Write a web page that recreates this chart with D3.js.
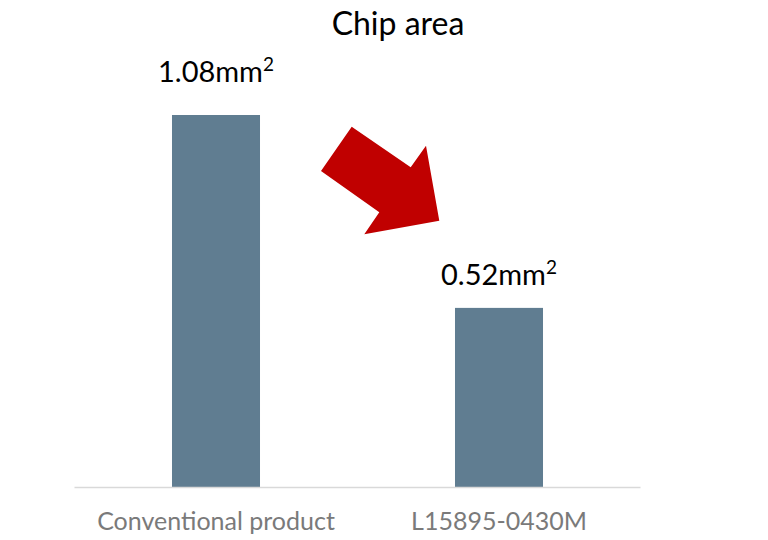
<!DOCTYPE html>
<html>
<head>
<meta charset="utf-8">
<script src="https://cdn.jsdelivr.net/npm/d3@7"></script>
<style>
  body { margin: 0; background: #fff; }
  svg { display: block; font-family: Lato, "Open Sans", sans-serif; }
</style>
</head>
<body>
<svg id="svg"></svg>
<script>
const categories = ["Conventional product", "L15895-0430M"];
const values = [1.08, 0.52];
const valueLabels = ["1.08mm", "0.52mm"];
const labelGaps = [33, 23];
const title = "Chip area";

let svg = d3.select("#svg");
let width = 768;
let height = 540;
svg.attr("width", width).attr("height", height);

let baseY = 487;

let x = d3.scaleBand()
    .domain(categories)
    .range([74.5, 640.5])
    .paddingInner(0.689)
    .paddingOuter(0.3445);

let y = d3.scaleLinear()
    .domain([0, 1.08])
    .range([baseY, 115]);

// title
svg.append("text")
    .attr("x", 398)
    .attr("y", 35)
    .attr("text-anchor", "middle")
    .attr("font-size", "32px")
    .attr("fill", "#000")
    .text(title);

// bars
svg.selectAll("rect.bar")
    .data(values)
    .enter()
    .append("rect")
    .attr("class", "bar")
    .attr("x", (d, i) => x(categories[i]))
    .attr("y", d => y(d))
    .attr("width", x.bandwidth())
    .attr("height", d => baseY - y(d))
    .attr("fill", "#607d91");

// baseline
svg.append("line")
    .attr("x1", 74.5)
    .attr("x2", 640.5)
    .attr("y1", baseY + 0.5)
    .attr("y2", baseY + 0.5)
    .attr("stroke", "#d9d9d9")
    .attr("stroke-width", 1.5);

// value labels with superscript
let labels = svg.selectAll("text.value")
    .data(values)
    .enter()
    .append("text")
    .attr("class", "value")
    .attr("x", (d, i) => x(categories[i]) + x.bandwidth() / 2)
    .attr("y", (d, i) => y(d) - labelGaps[i])
    .attr("text-anchor", "middle")
    .attr("font-size", "29px")
    .attr("fill", "#000");

labels.append("tspan").text((d, i) => valueLabels[i]);
labels.append("tspan")
    .attr("dy", -11)
    .attr("font-size", "19px")
    .text("2");

// category axis labels
svg.selectAll("text.cat")
    .data(categories)
    .enter()
    .append("text")
    .attr("class", "cat")
    .attr("x", d => x(d) + x.bandwidth() / 2)
    .attr("y", 530)
    .attr("text-anchor", "middle")
    .attr("font-size", "25px")
    .attr("fill", "#7a7a7a")
    .text(d => d);

// red arrow annotation between the bars
const arrowShape = [
    [351.7, 126.7], [410.7, 167.3], [426, 145.7], [439.3, 220.7],
    [364.3, 234.3], [379.3, 212.3], [321, 171]
];
svg.append("path")
    .attr("d", d3.line()(arrowShape) + "Z")
    .attr("fill", "#c00000");
</script>
</body>
</html>
